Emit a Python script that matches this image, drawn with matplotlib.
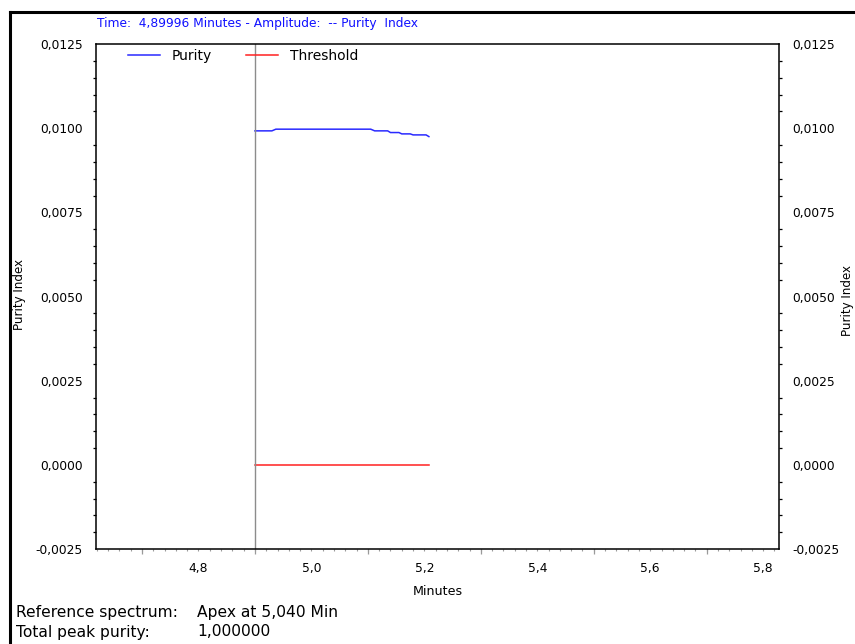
import matplotlib
matplotlib.use('Agg')
import matplotlib.pyplot as plt
from matplotlib.ticker import MultipleLocator, FuncFormatter, FixedLocator, NullFormatter
from matplotlib.lines import Line2D

# purity trace
minutes = [4.900, 4.930, 4.937, 5.105, 5.112, 5.135, 5.140, 5.155, 5.160,
           5.175, 5.180, 5.203, 5.208]
purity = [0.00992, 0.00992, 0.00997, 0.00997, 0.00992, 0.00992, 0.00987,
          0.00987, 0.00983, 0.00983, 0.00980, 0.00980, 0.00975]
threshold_minutes = [4.900, 5.208]
threshold = [0.0, 0.0]
cursor_time = 4.89996
odd_tenths = [4.7, 4.9, 5.1, 5.3, 5.5, 5.7]

title_text = "Time:  4,89996 Minutes - Amplitude:  -- Purity  Index"
footer_keys = ["Reference spectrum:", "Total peak purity:"]
footer_vals = ["Apex at 5,040 Min", "1,000000"]

W, H = 855, 644
fig = plt.figure(figsize=(W / 100, H / 100), dpi=100, facecolor='white')
ax = fig.add_axes([96 / W, 1 - 549 / H, (779 - 96) / W, (549 - 44) / H])

ax.plot(minutes, purity, color='#2a2aff', lw=1.1, label='Purity')
ax.plot(threshold_minutes, threshold, color='#ff2020', lw=1.1, label='Threshold')
ax.axvline(cursor_time, color='#8c8c8c', lw=1.0)

ax.set_xlim(4.6185, 5.828)
ax.set_ylim(-0.0025, 0.0125)

comma = lambda fmt: FuncFormatter(lambda v, p: (fmt % v).replace('.', ','))
ax.yaxis.set_major_locator(MultipleLocator(0.0025))
ax.yaxis.set_minor_locator(MultipleLocator(0.0005))
ax.yaxis.set_major_formatter(comma('%.4f'))
ax.xaxis.set_major_locator(MultipleLocator(0.2))
ax.xaxis.set_minor_locator(MultipleLocator(0.02))
ax.xaxis.set_major_formatter(comma('%.1f'))

ax.tick_params(axis='y', which='major', length=0, labelsize=8.8, pad=9.4,
               left=True, right=True, labelleft=True, labelright=True)
ax.tick_params(axis='y', which='minor', direction='out', length=2.2, width=0.9,
               color='black', left=True, right=True)
ax.tick_params(axis='x', which='both', direction='out', length=1.5, width=0.8,
               color='#9a9a9a', labelsize=8.8, pad=8)

# longer gray ticks at the odd tenths
sec = ax.secondary_xaxis('bottom')
sec.xaxis.set_major_locator(FixedLocator(odd_tenths))
sec.xaxis.set_major_formatter(NullFormatter())
sec.tick_params(direction='out', length=3.6, width=0.9, color='#9a9a9a')
sec.spines['bottom'].set_visible(False)

for s in ax.spines.values():
    s.set_linewidth(1.1)
    s.set_color('black')

ax.set_xlabel('Minutes', fontsize=9.1, labelpad=7)

ax.legend(loc='upper left', bbox_to_anchor=(0.0469, 0.99), ncol=2,
          frameon=False, fontsize=10, borderpad=0, borderaxespad=0,
          handlelength=2.3, handletextpad=0.86, columnspacing=2.45)

fig.text(97 / W, 1 - 24 / H, title_text, color='#1010ff', fontsize=8.8,
         ha='left', va='center')
fig.text(19 / W, 1 - 295 / H, 'Purity Index', rotation=90, fontsize=8.6,
         ha='center', va='center')
fig.text(854 / W, 1 - 300 / H, 'Purity Index', rotation=90, fontsize=8.6,
         ha='right', va='center')

for i, (k, v) in enumerate(zip(footer_keys, footer_vals)):
    y = 1 - (612 + 20 * i) / H
    fig.text(16 / W, y, k, fontsize=11.2, ha='left', va='center')
    fig.text(197 / W, y, v, fontsize=11.2, ha='left', va='center')

# outer frame lines, top and left
fig.add_artist(Line2D([10 / W, 1], [1 - 12 / H, 1 - 12 / H], color='black',
                      lw=2.2, transform=fig.transFigure))
fig.add_artist(Line2D([10 / W, 10 / W], [0, 1 - 12 / H], color='black',
                      lw=2.2, transform=fig.transFigure))

fig.savefig('out.png', dpi=100)
